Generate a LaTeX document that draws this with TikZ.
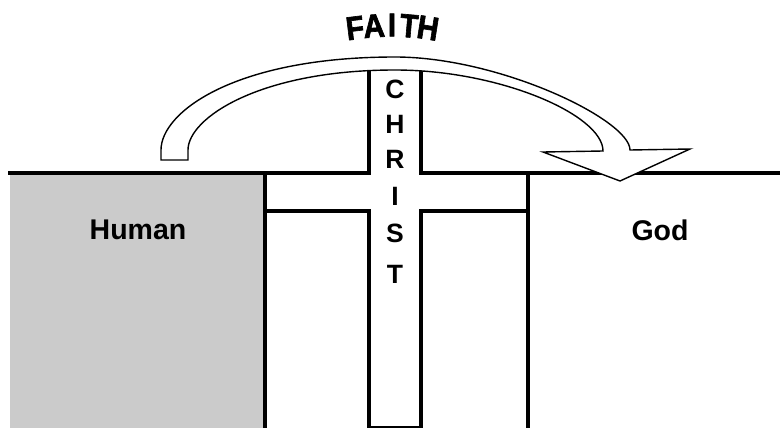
\documentclass[tikz,border=0pt]{standalone}
\usepackage{fontspec}
\setmainfont{Liberation Sans}
\newfontfamily\faithfont{Liberation Sans}[BoldFeatures={FakeBold=2}]
\definecolor{humangray}{HTML}{CBCBCB}
\begin{document}
\begin{tikzpicture}[x=1pt,y=-1pt,
  wall/.style={line width=3.5pt,line join=miter,line cap=rect},
  arrowbody/.style={draw=black,fill=white,line width=1.4pt,line join=miter},
  lbl/.style={font=\fontsize{28.5}{32}\selectfont\bfseries,inner sep=0pt},
  crossletter/.style={font=\fontsize{26.5}{30}\selectfont\bfseries,inner sep=0pt},
  faithletter/.style={font=\faithfont\fontsize{33}{35}\selectfont\bfseries,inner sep=0pt,
    text=black}]
\useasboundingbox (0,0) rectangle (780,428);
% human ground
\fill[humangray] (10,173) rectangle (265,428);
% outlines
\draw[wall] (10,173) -- (369,173) -- (369,72);
\draw[wall] (421,72) -- (421,173) -- (780,173);
\draw[wall] (265,173) -- (265,430);
\draw[wall] (265,211) -- (369,211) -- (369,430);
\draw[wall] (421,430) -- (421,211) -- (528,211);
\draw[wall] (528,173) -- (528,430);
\draw[line width=1.5pt] (369,427) -- (421,427);
% faith arrow
\path[arrowbody] (188,160) -- (161,160) -- (161,150)
  .. controls (161,112) and (235,57) .. (395,57)
  .. controls (500,57) and (630,120) .. (630,150)
  -- (690,149) -- (620,181) -- (543,152) -- (603,151)
  .. controls (603,115) and (500,70) .. (395,70)
  .. controls (260,70) and (188,118) .. (188,150) -- cycle;
% labels
\node[lbl] (human) at (138,230) {Human};
\node[lbl] (god) at (660,230) {God};
\node[crossletter] (c1) at (395,89) {C};
\node[crossletter] (c2) at (395,124) {H};
\node[crossletter] (c3) at (395,159) {R};
\node[crossletter] (c4) at (395,196) {I};
\node[crossletter] (c5) at (395,233) {S};
\node[crossletter] (c6) at (395,274) {T};
\node[faithletter,rotate=7,xscale=0.9] (f1) at (355,28) {F};
\node[faithletter,rotate=4,xscale=0.9] (f2) at (374,26) {A};
\node[faithletter,xscale=0.9] (f3) at (392,25) {I};
\node[faithletter,rotate=-5,xscale=0.9] (f4) at (409,26) {T};
\node[faithletter,rotate=-9,xscale=0.9] (f5) at (428,28) {H};
\end{tikzpicture}
\end{document}
